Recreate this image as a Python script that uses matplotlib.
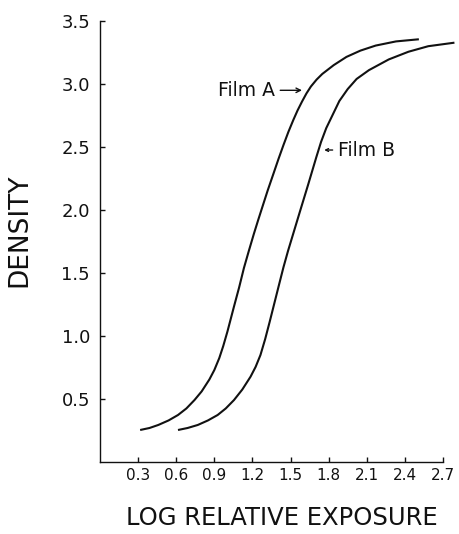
import matplotlib

matplotlib.use("Agg")
import matplotlib.pyplot as plt

# values (log relative exposure, density)
film_a_log_e = [0.316, 0.39, 0.459, 0.54, 0.614, 0.68, 0.744, 0.80, 0.861,
                0.90, 0.939, 0.97, 1.003, 1.055, 1.095, 1.133, 1.17, 1.211,
                1.245, 1.28, 1.32, 1.366, 1.405, 1.444, 1.483, 1.522, 1.555,
                1.59, 1.625, 1.66, 1.705, 1.75, 1.84, 1.94, 2.05, 2.17, 2.33,
                2.51]
film_a_density = [0.254, 0.27, 0.294, 0.33, 0.373, 0.425, 0.492, 0.56, 0.655,
                  0.73, 0.825, 0.92, 1.035, 1.235, 1.385, 1.54, 1.67, 1.81,
                  1.92, 2.03, 2.155, 2.29, 2.405, 2.515, 2.62, 2.715, 2.79,
                  2.86, 2.925, 2.98, 3.035, 3.08, 3.15, 3.215, 3.265, 3.305,
                  3.338, 3.355]

film_b_log_e = [0.614, 0.69, 0.77, 0.85, 0.926, 0.99, 1.055, 1.12, 1.185,
                1.225, 1.263, 1.30, 1.335, 1.37, 1.41, 1.444, 1.48, 1.522,
                1.573, 1.638, 1.703, 1.74, 1.781, 1.884, 1.95, 2.02, 2.117,
                2.273, 2.428, 2.584, 2.79]
film_b_density = [0.254, 0.27, 0.294, 0.33, 0.373, 0.425, 0.492, 0.575, 0.677,
                  0.755, 0.849, 0.975, 1.11, 1.25, 1.41, 1.545, 1.675, 1.815,
                  1.985, 2.20, 2.42, 2.54, 2.65, 2.865, 2.96, 3.04, 3.11,
                  3.195, 3.256, 3.30, 3.328]

x_ticks = [0.3, 0.6, 0.9, 1.2, 1.5, 1.8, 2.1, 2.4, 2.7]
x_tick_labels = ["0.3", "0.6", "0.9", "1.2", "1.5", "1.8", "2.1", "2.4", "2.7"]
y_ticks = [0.5, 1.0, 1.5, 2.0, 2.5, 3.0, 3.5]
y_tick_labels = ["0.5", "1.0", "1.5", "2.0", "2.5", "3.0", "3.5"]

ink = "#111111"

fig = plt.figure(figsize=(4.6, 5.34), dpi=100)
ax = fig.add_axes([100 / 460, 72 / 534, 343 / 460, 441 / 534])

for xs, ys in ((film_a_log_e, film_a_density), (film_b_log_e, film_b_density)):
    ax.plot(xs, ys, color=ink, lw=1.5, clip_on=False,
            solid_capstyle="butt", solid_joinstyle="round")

ax.set_xlim(0, 2.7)
ax.set_ylim(0, 3.5)
ax.set_xticks(x_ticks)
ax.set_xticklabels(x_tick_labels, fontsize=11, color=ink)
ax.set_yticks(y_ticks)
ax.set_yticklabels(y_tick_labels, fontsize=13, color=ink)

ax.spines["top"].set_visible(False)
ax.spines["right"].set_visible(False)
for side in ("left", "bottom"):
    ax.spines[side].set_linewidth(1.0)
    ax.spines[side].set_color(ink)
ax.tick_params(axis="both", direction="in", length=3.6, width=1.0, color=ink)
ax.tick_params(axis="x", pad=4.0)
ax.tick_params(axis="y", pad=7.2)

ax.annotate("Film A", xy=(1.59, 2.95), xytext=(1.375, 2.95),
            ha="right", va="center", fontsize=13.5, color=ink,
            arrowprops=dict(arrowstyle="->", color=ink, lw=1.0,
                            shrinkA=2, shrinkB=0, mutation_scale=8))
ax.annotate("Film B", xy=(1.765, 2.476), xytext=(1.875, 2.476),
            ha="left", va="center", fontsize=13.5, color=ink,
            arrowprops=dict(arrowstyle="->", color=ink, lw=1.0,
                            shrinkA=2, shrinkB=0, mutation_scale=5))

fig.text(19 / 460, 1 - 230 / 534, "DENSITY", rotation=90, ha="center",
         va="center", fontsize=19, color=ink)
fig.text(282 / 460, 1 - 525 / 534, "LOG RELATIVE EXPOSURE", ha="center",
         va="baseline", fontsize=17.5, color=ink)

fig.savefig("out.png", dpi=100, facecolor="white")
